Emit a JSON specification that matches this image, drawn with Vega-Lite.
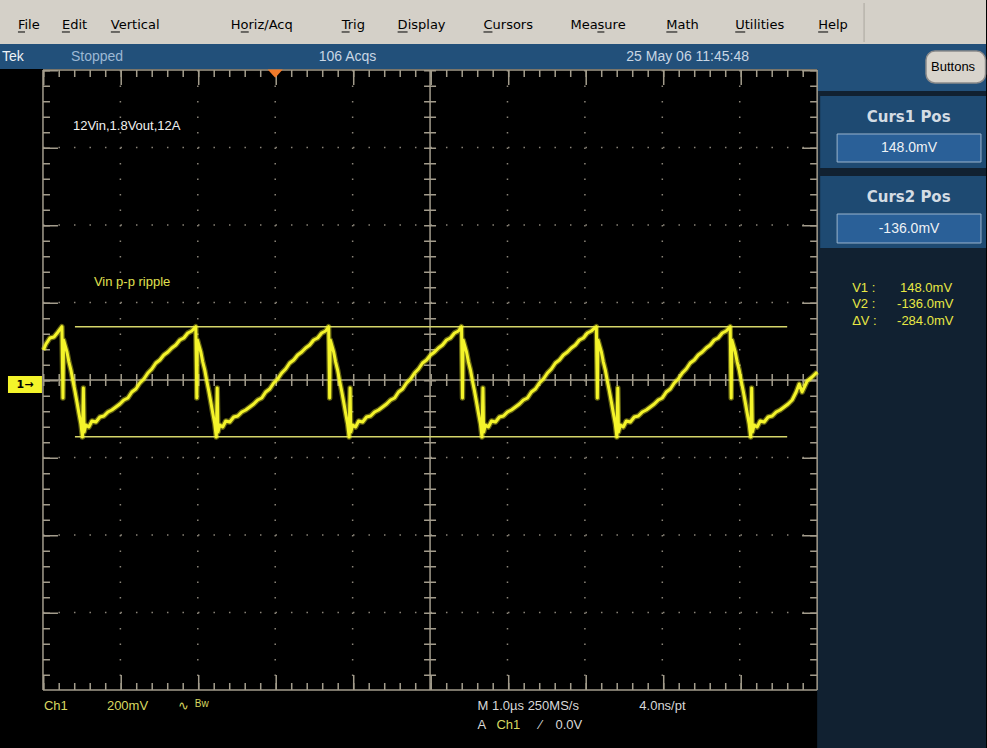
{
  "$schema": "https://vega.github.io/schema/vega-lite/v6.json",
  "width": 987,
  "height": 748,
  "autosize": {"type": "fit", "contains": "padding"},
  "padding": 0,
  "background": "#000000",
  "config": {"view": {"stroke": null}},
  "datasets": {
    "panels": [
      {"part": "menu", "t": -3.555, "t2": 9.181, "v": 877.4, "v2": 990.97},
      {"part": "status", "t": -3.555, "t2": 9.181, "v": 812.9, "v2": 877.4},
      {"part": "status", "t": 7.0, "t2": 9.181, "v": 756.1, "v2": 812.9},
      {"part": "rightBg", "t": 7.0, "t2": 9.181, "v": -939.35, "v2": 756.1},
      {"part": "curs", "t": 7.039, "t2": 9.181, "v": 557.4, "v2": 743.2},
      {"part": "curs", "t": 7.039, "t2": 9.181, "v": 351.0, "v2": 536.8}
    ],
    "valueBoxes": [
      {"t": 7.258, "t2": 9.116, "v": 572.9, "v2": 645.2},
      {"t": 7.258, "t2": 9.116, "v": 363.9, "v2": 438.7}
    ],
    "button": [
      {"t": 8.406, "t2": 9.175, "v": 776.8, "v2": 859.3}
    ],
    "sep": [
      {"t": 7.606, "t2": 7.606, "v": 983.2, "v2": 882.6}
    ],
    "underlines": [
      {"t": -3.323, "t2": -3.232, "v": 908.4, "v2": 908.4},
      {"t": -2.755, "t2": -2.652, "v": 908.4, "v2": 908.4},
      {"t": -2.123, "t2": -2.006, "v": 908.4, "v2": 908.4},
      {"t": -0.445, "t2": -0.342, "v": 908.4, "v2": 908.4},
      {"t": 0.858, "t2": 0.961, "v": 908.4, "v2": 908.4},
      {"t": 1.581, "t2": 1.710, "v": 908.4, "v2": 908.4},
      {"t": 2.690, "t2": 2.806, "v": 908.4, "v2": 908.4},
      {"t": 4.161, "t2": 4.252, "v": 908.4, "v2": 908.4},
      {"t": 5.052, "t2": 5.194, "v": 908.4, "v2": 908.4},
      {"t": 5.942, "t2": 6.071, "v": 908.4, "v2": 908.4},
      {"t": 7.013, "t2": 7.142, "v": 908.4, "v2": 908.4}
    ],
    "grat": [
      {"kind": "dotV", "t": -2, "t2": -2, "v": 810.3, "v2": -789.7},
      {"kind": "dotV", "t": -1, "t2": -1, "v": 810.3, "v2": -789.7},
      {"kind": "dotV", "t": 0, "t2": 0, "v": 810.3, "v2": -789.7},
      {"kind": "dotV", "t": 1, "t2": 1, "v": 810.3, "v2": -789.7},
      {"kind": "dotV", "t": 3, "t2": 3, "v": 810.3, "v2": -789.7},
      {"kind": "dotV", "t": 4, "t2": 4, "v": 810.3, "v2": -789.7},
      {"kind": "dotV", "t": 5, "t2": 5, "v": 810.3, "v2": -789.7},
      {"kind": "dotV", "t": 6, "t2": 6, "v": 810.3, "v2": -789.7},
      {"kind": "dotH", "t": -3, "t2": 7, "v": 610.3, "v2": 610.3},
      {"kind": "dotH", "t": -3, "t2": 7, "v": 410.3, "v2": 410.3},
      {"kind": "dotH", "t": -3, "t2": 7, "v": 210.3, "v2": 210.3},
      {"kind": "dotH", "t": -3, "t2": 7, "v": -189.7, "v2": -189.7},
      {"kind": "dotH", "t": -3, "t2": 7, "v": -389.7, "v2": -389.7},
      {"kind": "dotH", "t": -3, "t2": 7, "v": -589.7, "v2": -589.7},
      {"kind": "cross", "t": -3, "t2": 7, "v": 10.3, "v2": 10.3},
      {"kind": "cross", "t": 2, "t2": 2, "v": 810.3, "v2": -789.7},
      {"kind": "edge", "t": -3, "t2": 7, "v": 810.3, "v2": 810.3},
      {"kind": "edge", "t": -3, "t2": 7, "v": -789.7, "v2": -789.7},
      {"kind": "edge", "t": -3, "t2": -3, "v": 810.3, "v2": -789.7},
      {"kind": "edge", "t": 7, "t2": 7, "v": 810.3, "v2": -789.7},
      {"kind": "minor", "t": -3, "t2": 7, "v": 801.3, "v2": 801.3},
      {"kind": "minor", "t": -3, "t2": 7, "v": -780.7, "v2": -780.7},
      {"kind": "minor", "t": -2.9548, "t2": -2.9548, "v": 810.3, "v2": -789.7},
      {"kind": "minor", "t": 6.9548, "t2": 6.9548, "v": 810.3, "v2": -789.7},
      {"kind": "major", "t": -3, "t2": 7, "v": 790.95, "v2": 790.95},
      {"kind": "major", "t": -3, "t2": 7, "v": -770.35, "v2": -770.35},
      {"kind": "major", "t": -2.9032, "t2": -2.9032, "v": 810.3, "v2": -789.7},
      {"kind": "major", "t": 6.9032, "t2": 6.9032, "v": 810.3, "v2": -789.7}
    ],
    "cursors": [
      {"cursor": "Curs1", "t": -2.587, "t2": 6.613, "v": 148, "v2": 148},
      {"cursor": "Curs2", "t": -2.587, "t2": 6.613, "v": -136, "v2": -136}
    ],
    "trace": [
      {"t": -2.994, "v": 87.7}, {"t": -2.961, "v": 103.2}, {"t": -2.910, "v": 118.7}, {"t": -2.858, "v": 121.3}, {"t": -2.806, "v": 134.2},
      {"t": -2.755, "v": 148}, {"t": -2.742, "v": -36.1}, {"t": -2.734, "v": 113.5}, {"t": -2.716, "v": 100.6}, {"t": -2.690, "v": 82.6}, {"t": -2.665, "v": 56.8}, {"t": -2.639, "v": 36.1}, {"t": -2.613, "v": 7.7}, {"t": -2.587, "v": -18.1}, {"t": -2.561, "v": -46.5}, {"t": -2.536, "v": -74.8}, {"t": -2.510, "v": -103.2}, {"t": -2.490, "v": -137}, {"t": -2.478, "v": -10.3}, {"t": -2.469, "v": -123.9}, {"t": -2.445, "v": -105.8}, {"t": -2.407, "v": -111.0}, {"t": -2.368, "v": -95.5}, {"t": -2.316, "v": -98.1}, {"t": -2.265, "v": -85.2}, {"t": -2.213, "v": -82.6}, {"t": -2.161, "v": -72.3}, {"t": -2.110, "v": -67.1}, {"t": -2.058, "v": -59.4}, {"t": -2.007, "v": -51.6}, {"t": -1.955, "v": -41.3}, {"t": -1.903, "v": -36.1}, {"t": -1.852, "v": -20.6}, {"t": -1.800, "v": -12.9}, {"t": -1.749, "v": 2.6}, {"t": -1.697, "v": 12.9}, {"t": -1.645, "v": 28.4}, {"t": -1.594, "v": 38.7}, {"t": -1.542, "v": 54.2}, {"t": -1.490, "v": 61.9}, {"t": -1.439, "v": 74.8}, {"t": -1.387, "v": 82.6}, {"t": -1.336, "v": 92.9}, {"t": -1.284, "v": 100.6}, {"t": -1.232, "v": 113.5}, {"t": -1.181, "v": 118.7}, {"t": -1.129, "v": 131.6}, {"t": -1.078, "v": 136.8},
      {"t": -1.026, "v": 148}, {"t": -1.013, "v": -36.1}, {"t": -1.005, "v": 113.5}, {"t": -0.987, "v": 100.6}, {"t": -0.961, "v": 82.6}, {"t": -0.936, "v": 56.8}, {"t": -0.910, "v": 36.1}, {"t": -0.884, "v": 7.7}, {"t": -0.858, "v": -18.1}, {"t": -0.832, "v": -46.5}, {"t": -0.807, "v": -74.8}, {"t": -0.781, "v": -103.2}, {"t": -0.761, "v": -137}, {"t": -0.749, "v": -10.3}, {"t": -0.740, "v": -123.9}, {"t": -0.716, "v": -105.8}, {"t": -0.678, "v": -111.0}, {"t": -0.639, "v": -95.5}, {"t": -0.587, "v": -98.1}, {"t": -0.536, "v": -85.2}, {"t": -0.484, "v": -82.6}, {"t": -0.432, "v": -72.3}, {"t": -0.381, "v": -67.1}, {"t": -0.329, "v": -59.4}, {"t": -0.278, "v": -51.6}, {"t": -0.226, "v": -41.3}, {"t": -0.174, "v": -36.1}, {"t": -0.123, "v": -20.6}, {"t": -0.071, "v": -12.9}, {"t": -0.020, "v": 2.6}, {"t": 0.032, "v": 12.9}, {"t": 0.084, "v": 28.4}, {"t": 0.135, "v": 38.7}, {"t": 0.187, "v": 54.2}, {"t": 0.239, "v": 61.9}, {"t": 0.290, "v": 74.8}, {"t": 0.342, "v": 82.6}, {"t": 0.393, "v": 92.9}, {"t": 0.445, "v": 100.6}, {"t": 0.497, "v": 113.5}, {"t": 0.548, "v": 118.7}, {"t": 0.600, "v": 131.6}, {"t": 0.651, "v": 136.8},
      {"t": 0.690, "v": 148}, {"t": 0.703, "v": -36.1}, {"t": 0.711, "v": 113.5}, {"t": 0.729, "v": 100.6}, {"t": 0.755, "v": 82.6}, {"t": 0.780, "v": 56.8}, {"t": 0.806, "v": 36.1}, {"t": 0.832, "v": 7.7}, {"t": 0.858, "v": -18.1}, {"t": 0.884, "v": -46.5}, {"t": 0.909, "v": -74.8}, {"t": 0.935, "v": -103.2}, {"t": 0.955, "v": -137}, {"t": 0.967, "v": -10.3}, {"t": 0.976, "v": -123.9}, {"t": 1.000, "v": -105.8}, {"t": 1.038, "v": -111.0}, {"t": 1.077, "v": -95.5}, {"t": 1.129, "v": -98.1}, {"t": 1.180, "v": -85.2}, {"t": 1.232, "v": -82.6}, {"t": 1.284, "v": -72.3}, {"t": 1.335, "v": -67.1}, {"t": 1.387, "v": -59.4}, {"t": 1.438, "v": -51.6}, {"t": 1.490, "v": -41.3}, {"t": 1.542, "v": -36.1}, {"t": 1.593, "v": -20.6}, {"t": 1.645, "v": -12.9}, {"t": 1.696, "v": 2.6}, {"t": 1.748, "v": 12.9}, {"t": 1.800, "v": 28.4}, {"t": 1.851, "v": 38.7}, {"t": 1.903, "v": 54.2}, {"t": 1.955, "v": 61.9}, {"t": 2.006, "v": 74.8}, {"t": 2.058, "v": 82.6}, {"t": 2.109, "v": 92.9}, {"t": 2.161, "v": 100.6}, {"t": 2.213, "v": 113.5}, {"t": 2.264, "v": 118.7}, {"t": 2.316, "v": 131.6}, {"t": 2.367, "v": 136.8},
      {"t": 2.406, "v": 148}, {"t": 2.419, "v": -36.1}, {"t": 2.427, "v": 113.5}, {"t": 2.445, "v": 100.6}, {"t": 2.471, "v": 82.6}, {"t": 2.496, "v": 56.8}, {"t": 2.522, "v": 36.1}, {"t": 2.548, "v": 7.7}, {"t": 2.574, "v": -18.1}, {"t": 2.600, "v": -46.5}, {"t": 2.625, "v": -74.8}, {"t": 2.651, "v": -103.2}, {"t": 2.671, "v": -137}, {"t": 2.683, "v": -10.3}, {"t": 2.692, "v": -123.9}, {"t": 2.716, "v": -105.8}, {"t": 2.754, "v": -111.0}, {"t": 2.793, "v": -95.5}, {"t": 2.845, "v": -98.1}, {"t": 2.896, "v": -85.2}, {"t": 2.948, "v": -82.6}, {"t": 3.000, "v": -72.3}, {"t": 3.051, "v": -67.1}, {"t": 3.103, "v": -59.4}, {"t": 3.154, "v": -51.6}, {"t": 3.206, "v": -41.3}, {"t": 3.258, "v": -36.1}, {"t": 3.309, "v": -20.6}, {"t": 3.361, "v": -12.9}, {"t": 3.412, "v": 2.6}, {"t": 3.464, "v": 12.9}, {"t": 3.516, "v": 28.4}, {"t": 3.567, "v": 38.7}, {"t": 3.619, "v": 54.2}, {"t": 3.671, "v": 61.9}, {"t": 3.722, "v": 74.8}, {"t": 3.774, "v": 82.6}, {"t": 3.825, "v": 92.9}, {"t": 3.877, "v": 100.6}, {"t": 3.929, "v": 113.5}, {"t": 3.980, "v": 118.7}, {"t": 4.032, "v": 131.6}, {"t": 4.083, "v": 136.8},
      {"t": 4.148, "v": 148}, {"t": 4.161, "v": -36.1}, {"t": 4.169, "v": 113.5}, {"t": 4.187, "v": 100.6}, {"t": 4.213, "v": 82.6}, {"t": 4.238, "v": 56.8}, {"t": 4.264, "v": 36.1}, {"t": 4.290, "v": 7.7}, {"t": 4.316, "v": -18.1}, {"t": 4.342, "v": -46.5}, {"t": 4.367, "v": -74.8}, {"t": 4.393, "v": -103.2}, {"t": 4.413, "v": -137}, {"t": 4.425, "v": -10.3}, {"t": 4.434, "v": -123.9}, {"t": 4.458, "v": -105.8}, {"t": 4.496, "v": -111.0}, {"t": 4.535, "v": -95.5}, {"t": 4.587, "v": -98.1}, {"t": 4.638, "v": -85.2}, {"t": 4.690, "v": -82.6}, {"t": 4.742, "v": -72.3}, {"t": 4.793, "v": -67.1}, {"t": 4.845, "v": -59.4}, {"t": 4.896, "v": -51.6}, {"t": 4.948, "v": -41.3}, {"t": 5.000, "v": -36.1}, {"t": 5.051, "v": -20.6}, {"t": 5.103, "v": -12.9}, {"t": 5.154, "v": 2.6}, {"t": 5.206, "v": 12.9}, {"t": 5.258, "v": 28.4}, {"t": 5.309, "v": 38.7}, {"t": 5.361, "v": 54.2}, {"t": 5.413, "v": 61.9}, {"t": 5.464, "v": 74.8}, {"t": 5.516, "v": 82.6}, {"t": 5.567, "v": 92.9}, {"t": 5.619, "v": 100.6}, {"t": 5.671, "v": 113.5}, {"t": 5.722, "v": 118.7}, {"t": 5.774, "v": 131.6}, {"t": 5.825, "v": 136.8},
      {"t": 5.877, "v": 148}, {"t": 5.890, "v": -36.1}, {"t": 5.898, "v": 113.5}, {"t": 5.916, "v": 100.6}, {"t": 5.942, "v": 82.6}, {"t": 5.967, "v": 56.8}, {"t": 5.993, "v": 36.1}, {"t": 6.019, "v": 7.7}, {"t": 6.045, "v": -18.1}, {"t": 6.071, "v": -46.5}, {"t": 6.096, "v": -74.8}, {"t": 6.122, "v": -103.2}, {"t": 6.142, "v": -137}, {"t": 6.154, "v": -10.3}, {"t": 6.163, "v": -123.9}, {"t": 6.187, "v": -105.8}, {"t": 6.225, "v": -111.0}, {"t": 6.264, "v": -95.5}, {"t": 6.316, "v": -98.1}, {"t": 6.367, "v": -85.2}, {"t": 6.419, "v": -82.6}, {"t": 6.471, "v": -72.3}, {"t": 6.522, "v": -67.1}, {"t": 6.574, "v": -59.4}, {"t": 6.625, "v": -51.6}, {"t": 6.677, "v": -41.3},
      {"t": 6.729, "v": -20.6}, {"t": 6.768, "v": 0}, {"t": 6.806, "v": -20.6}, {"t": 6.871, "v": 7.7}, {"t": 6.935, "v": 18.1}, {"t": 7.0, "v": 31.0}
    ],
    "trigger": [{"t": 0, "v": 801}],
    "ground": [{"t": -3.452, "t2": -3.013, "v": 20.6, "v2": -23.2, "label": "1→", "tc": -3.232, "vc": -1.3}],
    "texts": [
      {"role": "menu", "t": -3.323, "v": 926.4, "label": "File"},
      {"role": "menu", "t": -2.755, "v": 926.4, "label": "Edit"},
      {"role": "menu", "t": -2.123, "v": 926.4, "label": "Vertical"},
      {"role": "menu", "t": -0.574, "v": 926.4, "label": "Horiz/Acq"},
      {"role": "menu", "t": 0.858, "v": 926.4, "label": "Trig"},
      {"role": "menu", "t": 1.581, "v": 926.4, "label": "Display"},
      {"role": "menu", "t": 2.690, "v": 926.4, "label": "Cursors"},
      {"role": "menu", "t": 3.813, "v": 926.4, "label": "Measure"},
      {"role": "menu", "t": 5.052, "v": 926.4, "label": "Math"},
      {"role": "menu", "t": 5.942, "v": 926.4, "label": "Utilities"},
      {"role": "menu", "t": 7.013, "v": 926.4, "label": "Help"},
      {"role": "statusW", "t": -3.529, "v": 843.9, "label": "Tek"},
      {"role": "statusB", "t": -2.639, "v": 843.9, "label": "Stopped"},
      {"role": "statusL", "t": 0.561, "v": 843.9, "label": "106 Acqs"},
      {"role": "statusL", "t": 4.535, "v": 843.9, "label": "25 May 06 11:45:48"},
      {"role": "button", "t": 8.471, "v": 818.1, "label": "Buttons"},
      {"role": "annotW", "t": -2.613, "v": 665.8, "label": "12Vin,1.8Vout,12A"},
      {"role": "annotY", "t": -2.342, "v": 263.2, "label": "Vin p-p ripple"},
      {"role": "panelTitle", "t": 8.182, "v": 689.0, "label": "Curs1 Pos"},
      {"role": "panelTitle", "t": 8.182, "v": 482.6, "label": "Curs2 Pos"},
      {"role": "panelValue", "t": 8.187, "v": 609.0, "label": "148.0mV"},
      {"role": "panelValue", "t": 8.187, "v": 400.0, "label": "-136.0mV"},
      {"role": "readY", "t": 7.452, "v": 247.7, "label": "V1 :"},
      {"role": "readY", "t": 8.071, "v": 247.7, "label": "148.0mV"},
      {"role": "readY", "t": 7.452, "v": 206.4, "label": "V2 :"},
      {"role": "readY", "t": 8.032, "v": 206.4, "label": "-136.0mV"},
      {"role": "readY", "t": 7.452, "v": 162.6, "label": "ΔV :"},
      {"role": "readY", "t": 8.032, "v": 162.6, "label": "-284.0mV"},
      {"role": "botY", "t": -2.987, "v": -831.0, "label": "Ch1"},
      {"role": "botY", "t": -2.174, "v": -831.0, "label": "200mV"},
      {"role": "botY", "t": -1.258, "v": -831.0, "label": "∿"},
      {"role": "botYs", "t": -1.039, "v": -827.0, "label": "Bw"},
      {"role": "botW", "t": 2.613, "v": -831.0, "label": "M 1.0µs 250MS/s"},
      {"role": "botW", "t": 4.703, "v": -831.0, "label": "4.0ns/pt"},
      {"role": "botW", "t": 2.613, "v": -880.0, "label": "A"},
      {"role": "botY", "t": 2.858, "v": -880.0, "label": "Ch1"},
      {"role": "botW", "t": 3.413, "v": -880.0, "label": "⁄"},
      {"role": "botW", "t": 3.619, "v": -880.0, "label": "0.0V"}
    ]
  },
  "encoding": {
    "x": {"field": "t", "type": "quantitative", "scale": {"domain": [-3.555, 9.181], "nice": false, "zero": false}, "axis": null},
    "y": {"field": "v", "type": "quantitative", "scale": {"domain": [-939.35, 990.97], "nice": false, "zero": false}, "axis": null}
  },
  "layer": [
    {
      "data": {"name": "panels"},
      "mark": {"type": "rect"},
      "encoding": {
        "x2": {"field": "t2"},
        "y2": {"field": "v2"},
        "color": {"field": "part", "type": "nominal", "scale": {"domain": ["menu", "status", "rightBg", "curs"], "range": ["#d4d0c8", "#22507a", "#112131", "#1e4a72"]}, "legend": null}
      }
    },
    {
      "data": {"name": "valueBoxes"},
      "mark": {"type": "rect", "fill": "#2a6098", "stroke": "#9ab4cc", "strokeWidth": 1},
      "encoding": {"x2": {"field": "t2"}, "y2": {"field": "v2"}}
    },
    {
      "data": {"name": "button"},
      "mark": {"type": "rect", "fill": "#d8d4cc", "stroke": "#8a8a8a", "strokeWidth": 1.5, "cornerRadius": 9},
      "encoding": {"x2": {"field": "t2"}, "y2": {"field": "v2"}}
    },
    {
      "data": {"name": "sep"},
      "mark": {"type": "rule", "color": "#aaa69e", "strokeWidth": 1},
      "encoding": {"x2": {"field": "t2"}, "y2": {"field": "v2"}}
    },
    {
      "data": {"name": "underlines"},
      "mark": {"type": "rule", "color": "#000000", "strokeWidth": 1},
      "encoding": {"x2": {"field": "t2"}, "y2": {"field": "v2"}}
    },
    {
      "data": {"name": "grat"},
      "transform": [{"filter": "datum.kind === 'dotV' || datum.kind === 'dotH'"}],
      "mark": {"type": "rule", "color": "#8a8478", "strokeWidth": 1.5, "strokeDash": [1.5, 14], "strokeCap": "butt"},
      "encoding": {"x2": {"field": "t2"}, "y2": {"field": "v2"}}
    },
    {
      "data": {"name": "grat"},
      "transform": [{"filter": "datum.kind === 'cross'"}],
      "mark": {"type": "rule", "color": "#a39c8c", "strokeWidth": 12, "strokeDash": [1.5, 14], "strokeCap": "butt"},
      "encoding": {"x2": {"field": "t2"}, "y2": {"field": "v2"}}
    },
    {
      "data": {"name": "grat"},
      "transform": [{"filter": "datum.kind === 'cross' || datum.kind === 'edge'"}],
      "mark": {"type": "rule", "color": "#a39c8c", "strokeWidth": 1.5, "strokeCap": "butt"},
      "encoding": {"x2": {"field": "t2"}, "y2": {"field": "v2"}}
    },
    {
      "data": {"name": "grat"},
      "transform": [{"filter": "datum.kind === 'minor'"}],
      "mark": {"type": "rule", "color": "#a39c8c", "strokeWidth": 7, "strokeDash": [1.5, 14], "strokeCap": "butt"},
      "encoding": {"x2": {"field": "t2"}, "y2": {"field": "v2"}}
    },
    {
      "data": {"name": "grat"},
      "transform": [{"filter": "datum.kind === 'major'"}],
      "mark": {"type": "rule", "color": "#a39c8c", "strokeWidth": 15, "strokeDash": [1.5, 76], "strokeCap": "butt"},
      "encoding": {"x2": {"field": "t2"}, "y2": {"field": "v2"}}
    },
    {
      "data": {"name": "cursors"},
      "mark": {"type": "rule", "color": "#d6d66a", "strokeWidth": 1.5},
      "encoding": {"x2": {"field": "t2"}, "y2": {"field": "v2"}}
    },
    {
      "data": {"name": "trace"},
      "mark": {"type": "line", "color": "#f4f42a", "strokeWidth": 5.5, "opacity": 0.4, "strokeJoin": "round"},
      "encoding": {}
    },
    {
      "data": {"name": "trace"},
      "mark": {"type": "line", "color": "#f4f42a", "strokeWidth": 3, "strokeJoin": "round"},
      "encoding": {}
    },
    {
      "data": {"name": "trigger"},
      "mark": {"type": "point", "shape": "M-1,-0.55L1,-0.55L0,0.55Z", "filled": true, "color": "#f07a2a", "size": 225, "opacity": 1},
      "encoding": {}
    },
    {
      "data": {"name": "ground"},
      "mark": {"type": "rect", "fill": "#f4f42a"},
      "encoding": {"x2": {"field": "t2"}, "y2": {"field": "v2"}}
    },
    {
      "data": {"name": "ground"},
      "mark": {"type": "text", "font": "DejaVu Sans", "fontSize": 11, "fontWeight": "bold", "color": "#000000", "align": "center", "baseline": "middle"},
      "encoding": {"x": {"field": "tc", "type": "quantitative"}, "y": {"field": "vc", "type": "quantitative"}, "text": {"field": "label"}}
    },
    {
      "data": {"name": "texts"},
      "transform": [{"filter": "datum.role === 'menu'"}],
      "mark": {"type": "text", "font": "DejaVu Sans", "fontSize": 13, "color": "#000000", "align": "left", "baseline": "middle"},
      "encoding": {"text": {"field": "label"}}
    },
    {
      "data": {"name": "texts"},
      "transform": [{"filter": "datum.role === 'statusW'"}],
      "mark": {"type": "text", "font": "Liberation Sans", "fontSize": 14, "color": "#eef2f6", "align": "left", "baseline": "middle"},
      "encoding": {"text": {"field": "label"}}
    },
    {
      "data": {"name": "texts"},
      "transform": [{"filter": "datum.role === 'statusB'"}],
      "mark": {"type": "text", "font": "Liberation Sans", "fontSize": 14, "color": "#9cb8d4", "align": "left", "baseline": "middle"},
      "encoding": {"text": {"field": "label"}}
    },
    {
      "data": {"name": "texts"},
      "transform": [{"filter": "datum.role === 'statusL'"}],
      "mark": {"type": "text", "font": "Liberation Sans", "fontSize": 14, "color": "#c8d6e4", "align": "left", "baseline": "middle"},
      "encoding": {"text": {"field": "label"}}
    },
    {
      "data": {"name": "texts"},
      "transform": [{"filter": "datum.role === 'button'"}],
      "mark": {"type": "text", "font": "Liberation Sans", "fontSize": 13, "color": "#000000", "align": "left", "baseline": "middle"},
      "encoding": {"text": {"field": "label"}}
    },
    {
      "data": {"name": "texts"},
      "transform": [{"filter": "datum.role === 'annotW'"}],
      "mark": {"type": "text", "font": "Liberation Sans", "fontSize": 13, "color": "#f0f0f0", "align": "left", "baseline": "middle"},
      "encoding": {"text": {"field": "label"}}
    },
    {
      "data": {"name": "texts"},
      "transform": [{"filter": "datum.role === 'annotY'"}],
      "mark": {"type": "text", "font": "Liberation Sans", "fontSize": 13, "color": "#e0e050", "align": "left", "baseline": "middle"},
      "encoding": {"text": {"field": "label"}}
    },
    {
      "data": {"name": "texts"},
      "transform": [{"filter": "datum.role === 'panelTitle'"}],
      "mark": {"type": "text", "font": "DejaVu Sans", "fontSize": 15, "fontWeight": "bold", "color": "#d4dce4", "align": "center", "baseline": "middle"},
      "encoding": {"text": {"field": "label"}}
    },
    {
      "data": {"name": "texts"},
      "transform": [{"filter": "datum.role === 'panelValue'"}],
      "mark": {"type": "text", "font": "Liberation Sans", "fontSize": 14, "color": "#eef2f6", "align": "center", "baseline": "middle"},
      "encoding": {"text": {"field": "label"}}
    },
    {
      "data": {"name": "texts"},
      "transform": [{"filter": "datum.role === 'readY'"}],
      "mark": {"type": "text", "font": "Liberation Sans", "fontSize": 13, "color": "#e8e844", "align": "left", "baseline": "middle"},
      "encoding": {"text": {"field": "label"}}
    },
    {
      "data": {"name": "texts"},
      "transform": [{"filter": "datum.role === 'botY'"}],
      "mark": {"type": "text", "font": "Liberation Sans", "fontSize": 13, "color": "#d8d860", "align": "left", "baseline": "middle"},
      "encoding": {"text": {"field": "label"}}
    },
    {
      "data": {"name": "texts"},
      "transform": [{"filter": "datum.role === 'botYs'"}],
      "mark": {"type": "text", "font": "Liberation Sans", "fontSize": 10, "color": "#d8d860", "align": "left", "baseline": "middle"},
      "encoding": {"text": {"field": "label"}}
    },
    {
      "data": {"name": "texts"},
      "transform": [{"filter": "datum.role === 'botW'"}],
      "mark": {"type": "text", "font": "Liberation Sans", "fontSize": 13, "color": "#d8d8d8", "align": "left", "baseline": "middle"},
      "encoding": {"text": {"field": "label"}}
    }
  ]
}
